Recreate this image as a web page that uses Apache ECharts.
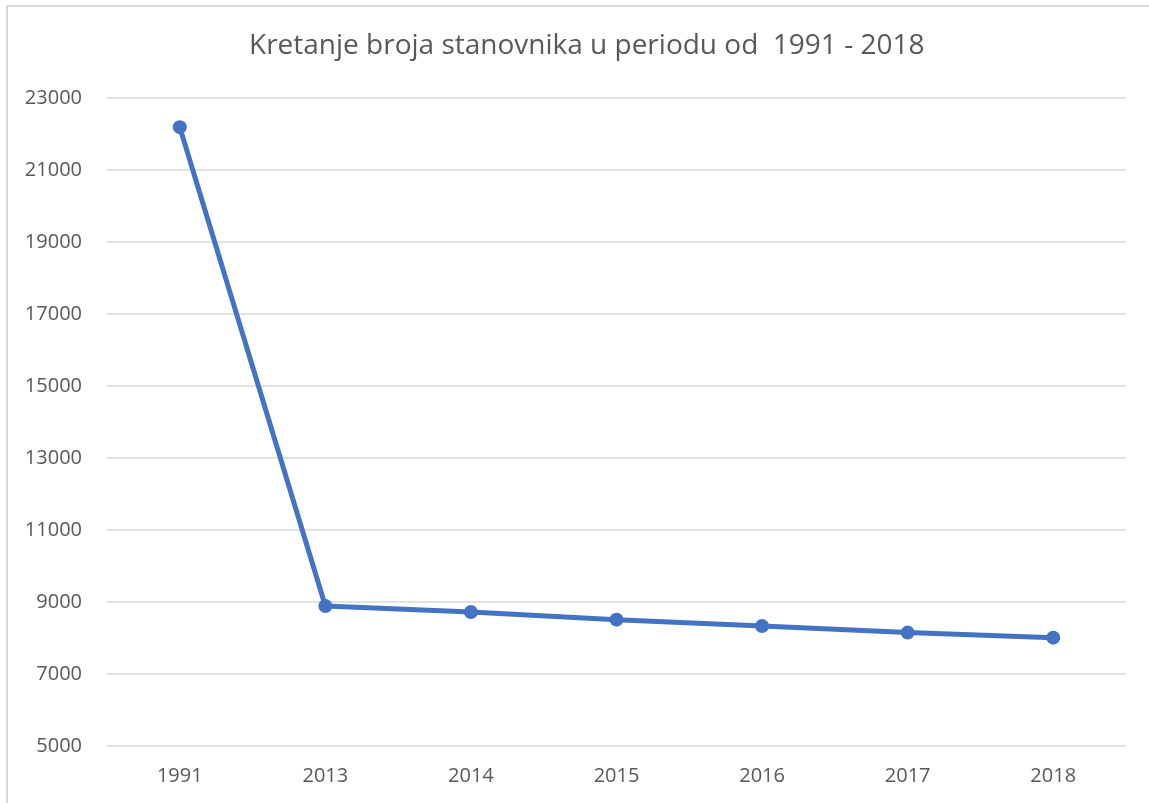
<!DOCTYPE html>
<html>
<head>
<meta charset="utf-8">
<script src="https://cdn.jsdelivr.net/npm/echarts@6/dist/echarts.min.js"></script>
<style>
  html, body { margin: 0; padding: 0; background: #fff; }
  #chart { width: 1149px; height: 803px; }
</style>
</head>
<body>
<div id="chart"></div>
<script>
// podaci
const godine = ['1991', '2013', '2014', '2015', '2016', '2017', '2018']
const stanovnici = [22190, 8890, 8720, 8510, 8330, 8150, 8010]
const naslov = 'Kretanje broja stanovnika u periodu od  1991 - 2018'

const textColor = '#595959'
const fontFamily = '"Open Sans", "Noto Sans", sans-serif'

const chart = echarts.init(document.getElementById('chart'))
const option = {
  animation: false,
  backgroundColor: '#fff',
  title: {
    text: naslov,
    left: 244,
    top: 27,
    textStyle: {
      color: textColor,
      fontSize: 28,
      fontWeight: 'normal',
      fontFamily
    }
  },
  // okvir grafikona
  graphic: [{
    type: 'polyline',
    shape: { points: [[7, 803], [7, 6], [1149, 6]] },
    style: { stroke: '#d9d9d9', lineWidth: 2, fill: null }
  }],
  grid: {
    left: 107,
    right: 23,
    top: 98,
    bottom: 57
  },
  xAxis: {
    type: 'category',
    data: godine,
    boundaryGap: true,
    axisTick: { show: false },
    axisLine: { show: false },
    axisLabel: {
      color: textColor,
      fontSize: 20,
      fontFamily,
      margin: 20
    }
  },
  yAxis: {
    type: 'value',
    min: 5000,
    max: 23000,
    interval: 2000,
    axisTick: { show: false },
    axisLine: { show: false },
    splitLine: {
      lineStyle: { color: '#d9d9d9', width: 1.5 }
    },
    axisLabel: {
      color: textColor,
      fontSize: 20,
      fontFamily,
      margin: 25,
      formatter: v => String(v)
    }
  },
  series: [{
    type: 'line',
    data: stanovnici,
    symbol: 'circle',
    symbolSize: 14,
    lineStyle: { color: '#4472c4', width: 5 },
    itemStyle: { color: '#4472c4' }
  }]
}
chart.setOption(option, true)
</script>
</body>
</html>
